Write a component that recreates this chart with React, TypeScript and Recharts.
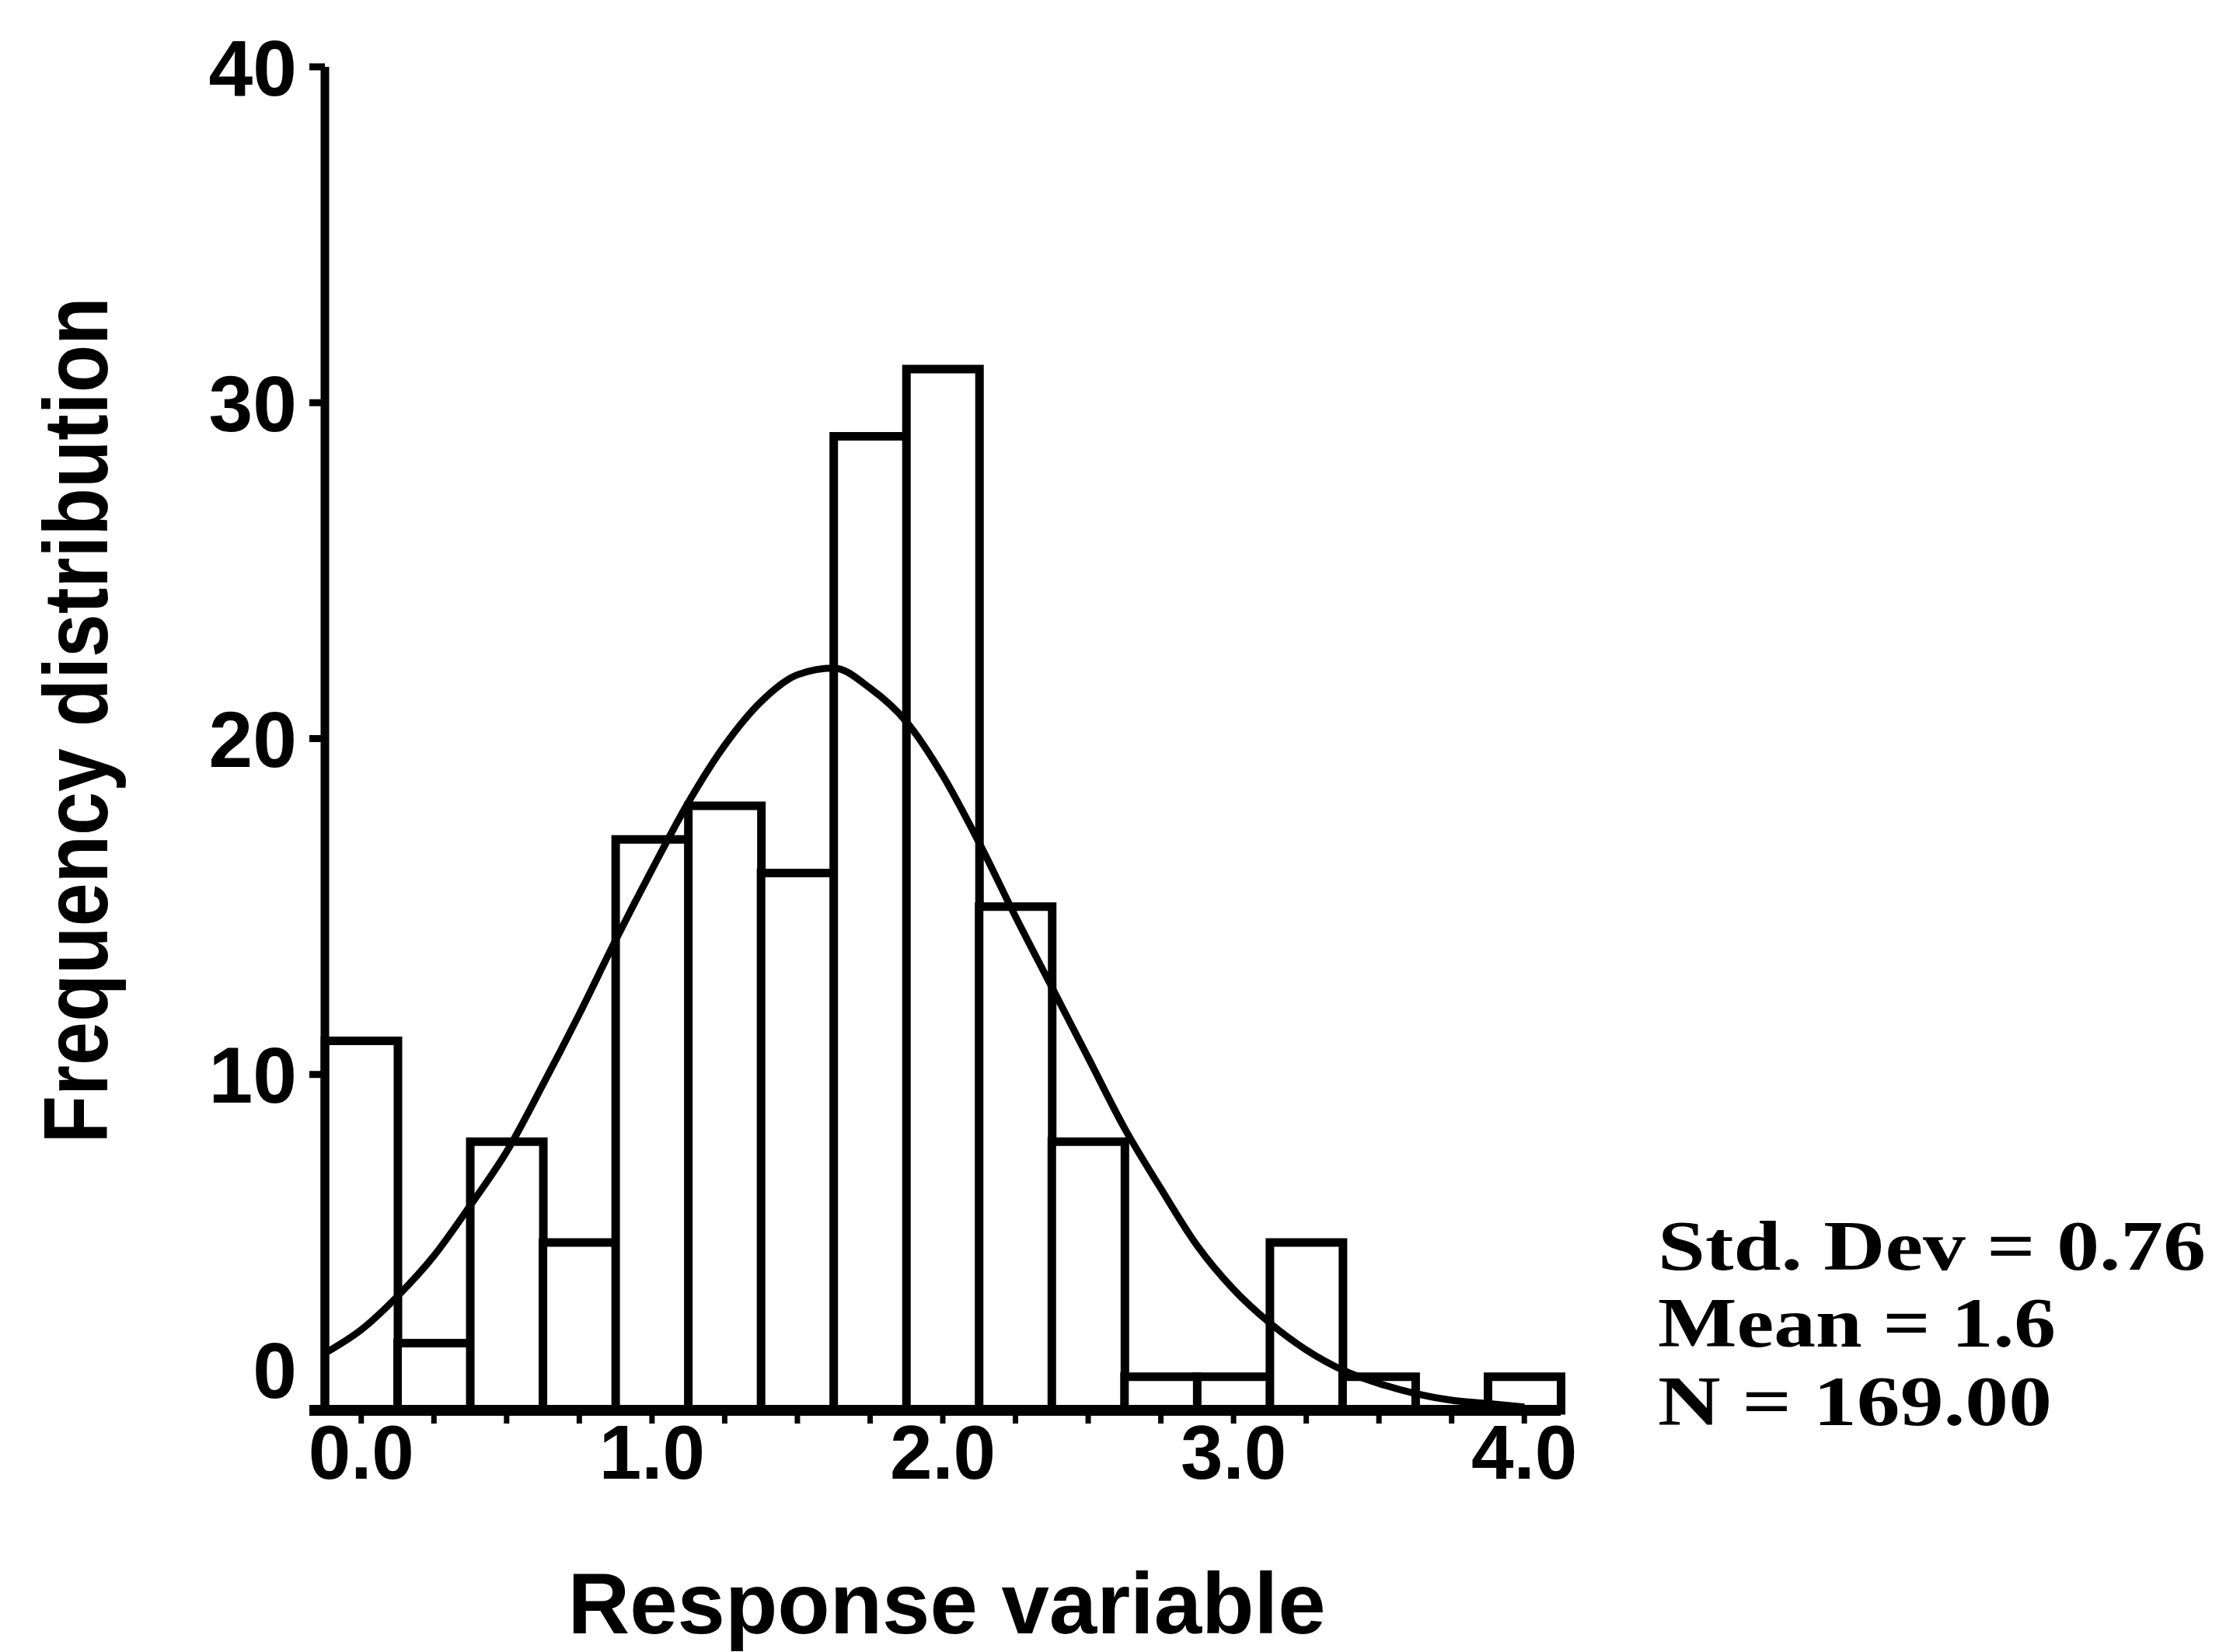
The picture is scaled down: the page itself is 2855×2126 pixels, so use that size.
import React from 'react';
import { ComposedChart, Bar, Line, XAxis, YAxis, Customized } from 'recharts';

// histogram bins (centre of each 0.25 wide bin) and their counts
const binMids = [0, 0.25, 0.5, 0.75, 1.0, 1.25, 1.5, 1.75, 2.0, 2.25, 2.5, 2.75, 3.0, 3.25, 3.5, 3.75, 4.0];
const counts = [11, 2, 8, 5, 17, 18, 16, 29, 31, 15, 8, 1, 1, 5, 1, 0, 1];

// fitted normal curve
const curveX = [
  -0.125, 0, 0.125, 0.25, 0.375, 0.5, 0.625, 0.75, 0.875, 1.0, 1.125, 1.25, 1.375, 1.5, 1.625, 1.75,
  1.875, 2.0, 2.125, 2.25, 2.375, 2.5, 2.625, 2.75, 2.875, 3.0, 3.125, 3.25, 3.375, 3.5, 3.625, 3.75, 3.875, 4.0,
];
const curveY = [
  1.7, 2.4, 3.4, 4.6, 6.1, 7.7, 9.7, 11.8, 14.0, 16.1, 18.1, 19.8, 21.1, 21.9, 22.1, 21.5,
  20.5, 18.9, 16.9, 14.7, 12.6, 10.5, 8.4, 6.6, 4.9, 3.6, 2.6, 1.8, 1.2, 0.8, 0.5, 0.3, 0.2, 0.1,
];

const xLabelValues = [0, 1, 2, 3, 4];
const xLabels = ['0.0', '1.0', '2.0', '3.0', '4.0'];
const yTicks = [0, 10, 20, 30, 40];
const statLines = ['Std. Dev = 0.76', 'Mean = 1.6', 'N = 169.00'];

const barRows = binMids.map((mid, i) => ({ mid, count: counts[i] }));
const curveRows = curveX.map((x, i) => ({ x, fit: curveY[i] }));

const SANS = '"Liberation Sans", Arial, sans-serif';
const SERIF = '"Liberation Serif", "Times New Roman", serif';

const XTick = (props: any) => {
  const { x, y, payload } = props;
  const idx = xLabelValues.indexOf(payload.value);
  return (
    <g>
      <line x1={x} x2={x} y1={y} y2={y + 17} stroke="#000" strokeWidth={7} />
      {idx >= 0 && (
        <text x={x} y={y + 88} textAnchor="middle" fontFamily={SANS} fontSize={98} fontWeight="bold" fill="#000">
          {xLabels[idx]}
        </text>
      )}
    </g>
  );
};

const YTick = (props: any) => {
  const { x, y, payload } = props;
  const zero = payload.value === 0;
  // the "0" label sits a little above the baseline in the original
  const ty = zero ? y - 53 : y;
  return (
    <g>
      <line x1={x - 20} x2={x} y1={y} y2={y} stroke="#000" strokeWidth={zero ? 14 : 9} />
      <text x={x - 36} y={ty} dy="0.36em" textAnchor="end" fontFamily={SANS} fontSize={102} fontWeight="bold" fill="#000">
        {payload.value}
      </text>
    </g>
  );
};

const Annotations = () => (
  <g>
    <text
      x={138}
      y={927}
      transform="rotate(-90 138 927)"
      textAnchor="middle"
      fontFamily={SANS}
      fontSize={116}
      fontWeight="bold"
      textLength={1089}
      lengthAdjust="spacingAndGlyphs"
      fill="#000"
    >
      Frequency distribution
    </text>
    <text
      x={1218}
      y={2102}
      textAnchor="middle"
      fontFamily={SANS}
      fontSize={112}
      fontWeight="bold"
      textLength={975}
      lengthAdjust="spacingAndGlyphs"
      fill="#000"
    >
      Response variable
    </text>
    {statLines.map((s, i) => (
      <text
        key={s}
        x={2133}
        y={[1634, 1733, 1834][i]}
        fontFamily={SERIF}
        fontSize={90}
        fontWeight="bold"
        textLength={[705, 512, 507][i]}
        lengthAdjust="spacingAndGlyphs"
        fill="#000"
      >
        {s}
      </text>
    ))}
  </g>
);

export default function App() {
  return (
    <div style={{ position: 'absolute', left: 0, top: 0, width: 2855, height: 2126, background: '#fff' }}>
      <ComposedChart
        width={2855}
        height={2126}
        data={barRows}
        margin={{ top: 86, right: 847, bottom: 161, left: 268 }}
        barCategoryGap={0}
        barGap={0}
      >
        <XAxis
          xAxisId="val"
          dataKey="x"
          type="number"
          domain={[-0.125, 4.125]}
          allowDataOverflow
          ticks={binMids}
          interval={0}
          height={150}
          tickSize={0}
          tickMargin={0}
          tickLine={false}
          axisLine={{ stroke: '#000', strokeWidth: 14 }}
          tick={<XTick />}
        />
        <XAxis xAxisId="bins" dataKey="mid" type="category" hide height={0} />
        <YAxis
          domain={[0, 40]}
          ticks={yTicks}
          interval={0}
          width={150}
          tickSize={0}
          tickMargin={0}
          tickLine={false}
          axisLine={{ stroke: '#000', strokeWidth: 11 }}
          tick={<YTick />}
        />
        <Bar
          xAxisId="bins"
          dataKey="count"
          fill="#fff"
          stroke="#000"
          strokeWidth={11}
          isAnimationActive={false}
        />
        <Line
          xAxisId="val"
          data={curveRows}
          dataKey="fit"
          type="monotone"
          stroke="#000"
          strokeWidth={9}
          dot={false}
          activeDot={false}
          isAnimationActive={false}
        />
        <Customized component={Annotations} />
      </ComposedChart>
    </div>
  );
}
